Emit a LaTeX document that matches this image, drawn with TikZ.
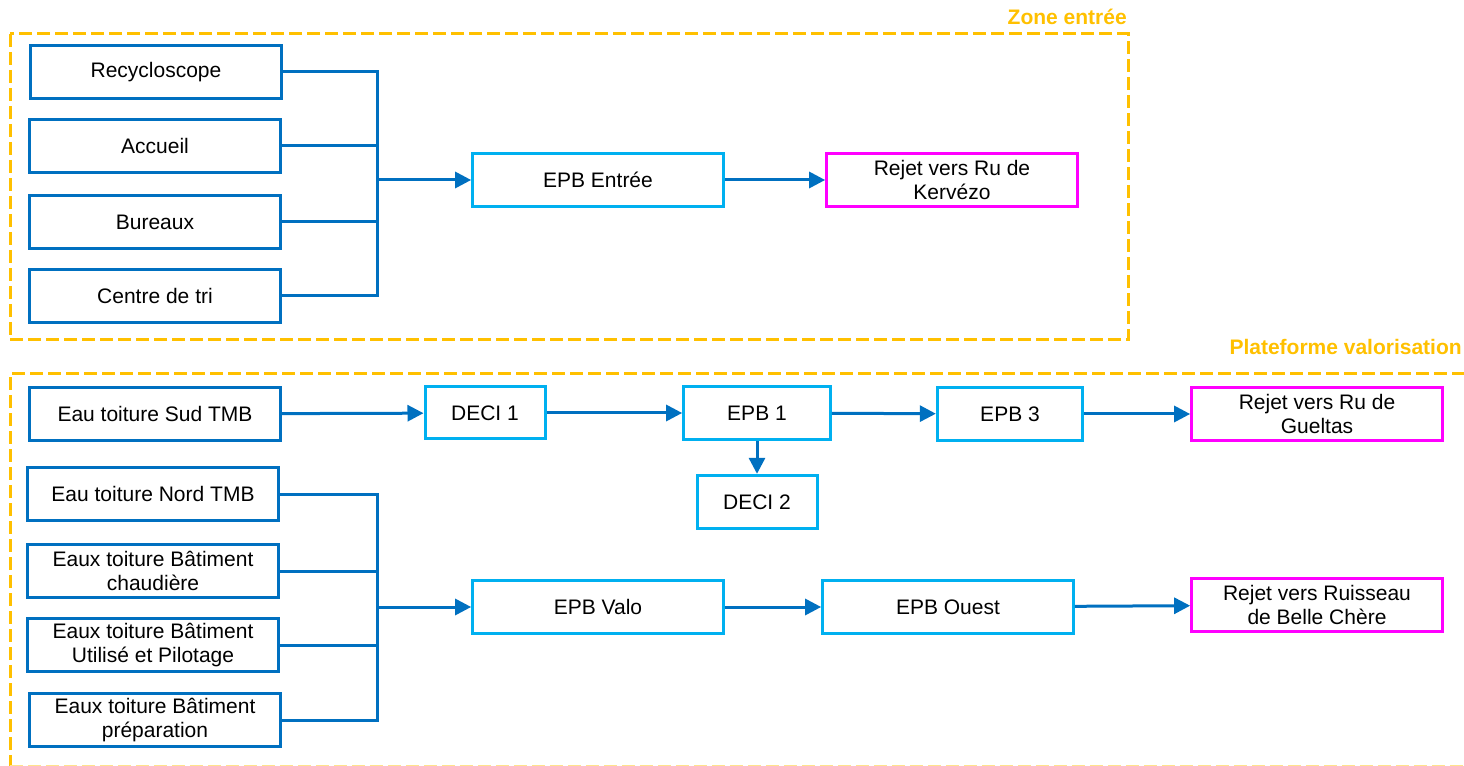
\documentclass[tikz,border=0pt]{standalone}
\usepackage{fontspec}
\setmainfont{Liberation Sans}
\usepackage{xcolor}
\usepackage{tikz}
\usetikzlibrary{
  positioning,
  arrows.meta
}
\definecolor{bleu}{HTML}{0070C0}
\definecolor{ciel}{HTML}{00B0F0}
\definecolor{rose}{HTML}{FF00FF}
\definecolor{jaune}{HTML}{FFC000}

\begin{document}
\begin{tikzpicture}[x=0.75pt,y=-0.75pt,
  font=\fontsize{15.75}{18}\selectfont,
  boite/.style={draw=bleu,line width=2.25pt,fill=white,align=center,
    inner sep=0pt,minimum width=188pt,minimum height=40pt},
  bassin/.style={boite,draw=ciel},
  rejet/.style={boite,draw=rose},
  zone/.style={draw=jaune,line width=2.25pt,dash pattern=on 9.75pt off 3.75pt},
  titre/.style={anchor=base east,inner sep=0pt,text=jaune,
    font=\fontsize{15.75}{18}\selectfont\bfseries},
  lien/.style={draw=bleu,line width=2.25pt,line join=miter},
  fleche/.style={lien,-{Triangle[length=12pt,width=12pt]}}]
  \useasboundingbox (0,0) rectangle (1464,766);
  % zones
  \draw[zone] (10,34) rectangle (1128,340);
  \node[titre] (zentree) at (1127,25) {Zone entrée};
  \draw[zone] (10,768) -- (10,374) -- (1480,374);
  \node[titre] (zvalo) at (1462,355) {Plateforme valorisation};
  % zone entree
  \node[boite] (recy) at (156,72) {Recycloscope};
  \node[boite] (accu) at (155,146) {Accueil};
  \node[boite] (bure) at (155,222) {Bureaux};
  \node[boite] (cdt) at (155,296) {Centre de tri};
  \node[bassin] (epbe) at (598,180) {EPB Entrée};
  \node[rejet] (kerv) at (952,180) {Rejet vers Ru de\\Kervézo};
  \coordinate (b1) at (377,180);
  \draw[lien] (recy.east) -| (b1);
  \draw[lien] (accu.east) -| (b1);
  \draw[lien] (bure.east) -| (b1);
  \draw[lien] (cdt.east) -| (b1);
  \draw[fleche] (b1) -- (epbe.west);
  \draw[fleche] (epbe) -- (kerv);
  % plateforme : ligne sud
  \node[boite] (sud) at (155,414) {Eau toiture Sud TMB};
  \node[bassin,minimum width=90pt,minimum height=39pt] (deci1) at (485,413) {DECI 1};
  \node[bassin,minimum width=110pt] (epb1) at (757,413) {EPB 1};
  \node[bassin,minimum width=109pt] (epb3) at (1010,414) {EPB 3};
  \node[rejet] (guel) at (1317,414) {Rejet vers Ru de\\Gueltas};
  \node[bassin,minimum width=90pt] (deci2) at (757,502) {DECI 2};
  \draw[fleche] (sud) -- (deci1);
  \draw[fleche] (deci1) -- (epb1);
  \draw[fleche] (epb1) -- (epb3);
  \draw[fleche] (epb3) -- (guel);
  \draw[fleche] (epb1) -- (deci2);
  % plateforme : ligne valo
  \node[boite] (nord) at (153,494) {Eau toiture Nord TMB};
  \node[boite] (chau) at (153,571) {Eaux toiture Bâtiment\\chaudière};
  \node[boite] (pilo) at (153,645) {Eaux toiture Bâtiment\\Utilisé et Pilotage};
  \node[boite] (prep) at (155,720) {Eaux toiture Bâtiment\\préparation};
  \node[bassin] (epbv) at (598,607) {EPB Valo};
  \node[bassin] (epbo) at (948,607) {EPB Ouest};
  \node[rejet] (bell) at (1317,605) {Rejet vers Ruisseau\\de Belle Chère};
  \coordinate (b2) at (377,607);
  \draw[lien] (nord.east) -| (b2);
  \draw[lien] (chau.east) -| (b2);
  \draw[lien] (pilo.east) -| (b2);
  \draw[lien] (prep.east) -| (b2);
  \draw[fleche] (b2) -- (epbv.west);
  \draw[fleche] (epbv) -- (epbo);
  \draw[fleche] (epbo) -- (bell);
  % bord bas, a moitie coupe
  \draw[zone,draw=jaune!45] (10,766) -- (1480,766);
\end{tikzpicture}
\end{document}
